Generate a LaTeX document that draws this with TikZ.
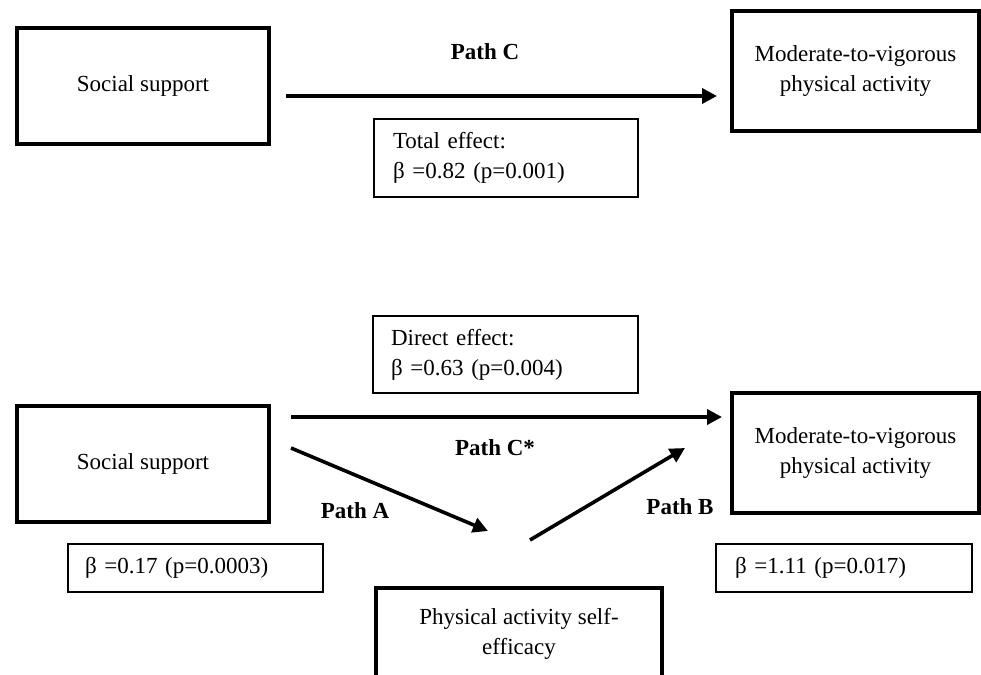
\documentclass[tikz,border=0pt]{standalone}
\usepackage{fontspec}
\setmainfont{Liberation Serif}
\usetikzlibrary{arrows.meta}
\tikzset{
  thickbox/.style={draw, line width=3.2pt, align=center, inner sep=0pt},
  thinbox/.style={draw, line width=1.4pt, align=left, inner sep=0pt},
  arr/.style={line width=3.6pt, -{Triangle[length=15pt,width=15pt]}},
  lbl/.style={font=\fontsize{23}{30}\selectfont\bfseries, inner sep=0pt}
}
\begin{document}
\begin{tikzpicture}[x=1pt, y=-1pt, font=\fontsize{23}{30}\selectfont]
\useasboundingbox (0,0) rectangle (981,674);
\clip (0,0) rectangle (981,674);
% ---------- top model ----------
\node (ss1) [thickbox, minimum width=252, minimum height=116] at (143,86) {Social support};
\node (mv1) [thickbox, minimum width=247, minimum height=120] at (855.5,71) {Moderate-to-vigorous\\physical activity};
\node (te) [thinbox, minimum width=264, minimum height=78, text width=226] at (506,158) {Total effect:\\β =0.82 (p=0.001)};
\node (pc) [lbl] at (485,52) {Path C};
\coordinate (pcS) at (286,96);
\coordinate (pcE) at (717,96);
\draw[arr] (pcS) -- (pcE);
% ---------- bottom model ----------
\node (ss2) [thickbox, minimum width=252, minimum height=116] at (143,464) {Social support};
\node (mv2) [thickbox, minimum width=247, minimum height=120] at (855.5,453) {Moderate-to-vigorous\\physical activity};
\node (se) [thickbox, minimum width=286, minimum height=92] at (519,634) {Physical activity self-\\efficacy};
\node (de) [thinbox, minimum width=265, minimum height=77, text width=229] at (505.5,354.5) {Direct effect:\\β =0.63 (p=0.004)};
\node (ba) [thinbox, minimum width=255, minimum height=48, text width=221] at (195.5,568) {β =0.17 (p=0.0003)};
\node (bb) [thinbox, minimum width=256, minimum height=48, text width=218] at (844,568) {β =1.11 (p=0.017)};
\node (pcs) [lbl] at (495,448) {Path C*};
\node (pa) [lbl] at (355,511) {Path A};
\node (pb) [lbl] at (680,507) {Path B};
\coordinate (csS) at (291,417);
\coordinate (csE) at (722,417);
\coordinate (aS) at (291,448);
\coordinate (aE) at (488,531);
\coordinate (bS) at (530,540);
\coordinate (bE) at (685,448);
\draw[arr] (csS) -- (csE);
\draw[arr] (aS) -- (aE);
\draw[arr] (bS) -- (bE);
\end{tikzpicture}
\end{document}
